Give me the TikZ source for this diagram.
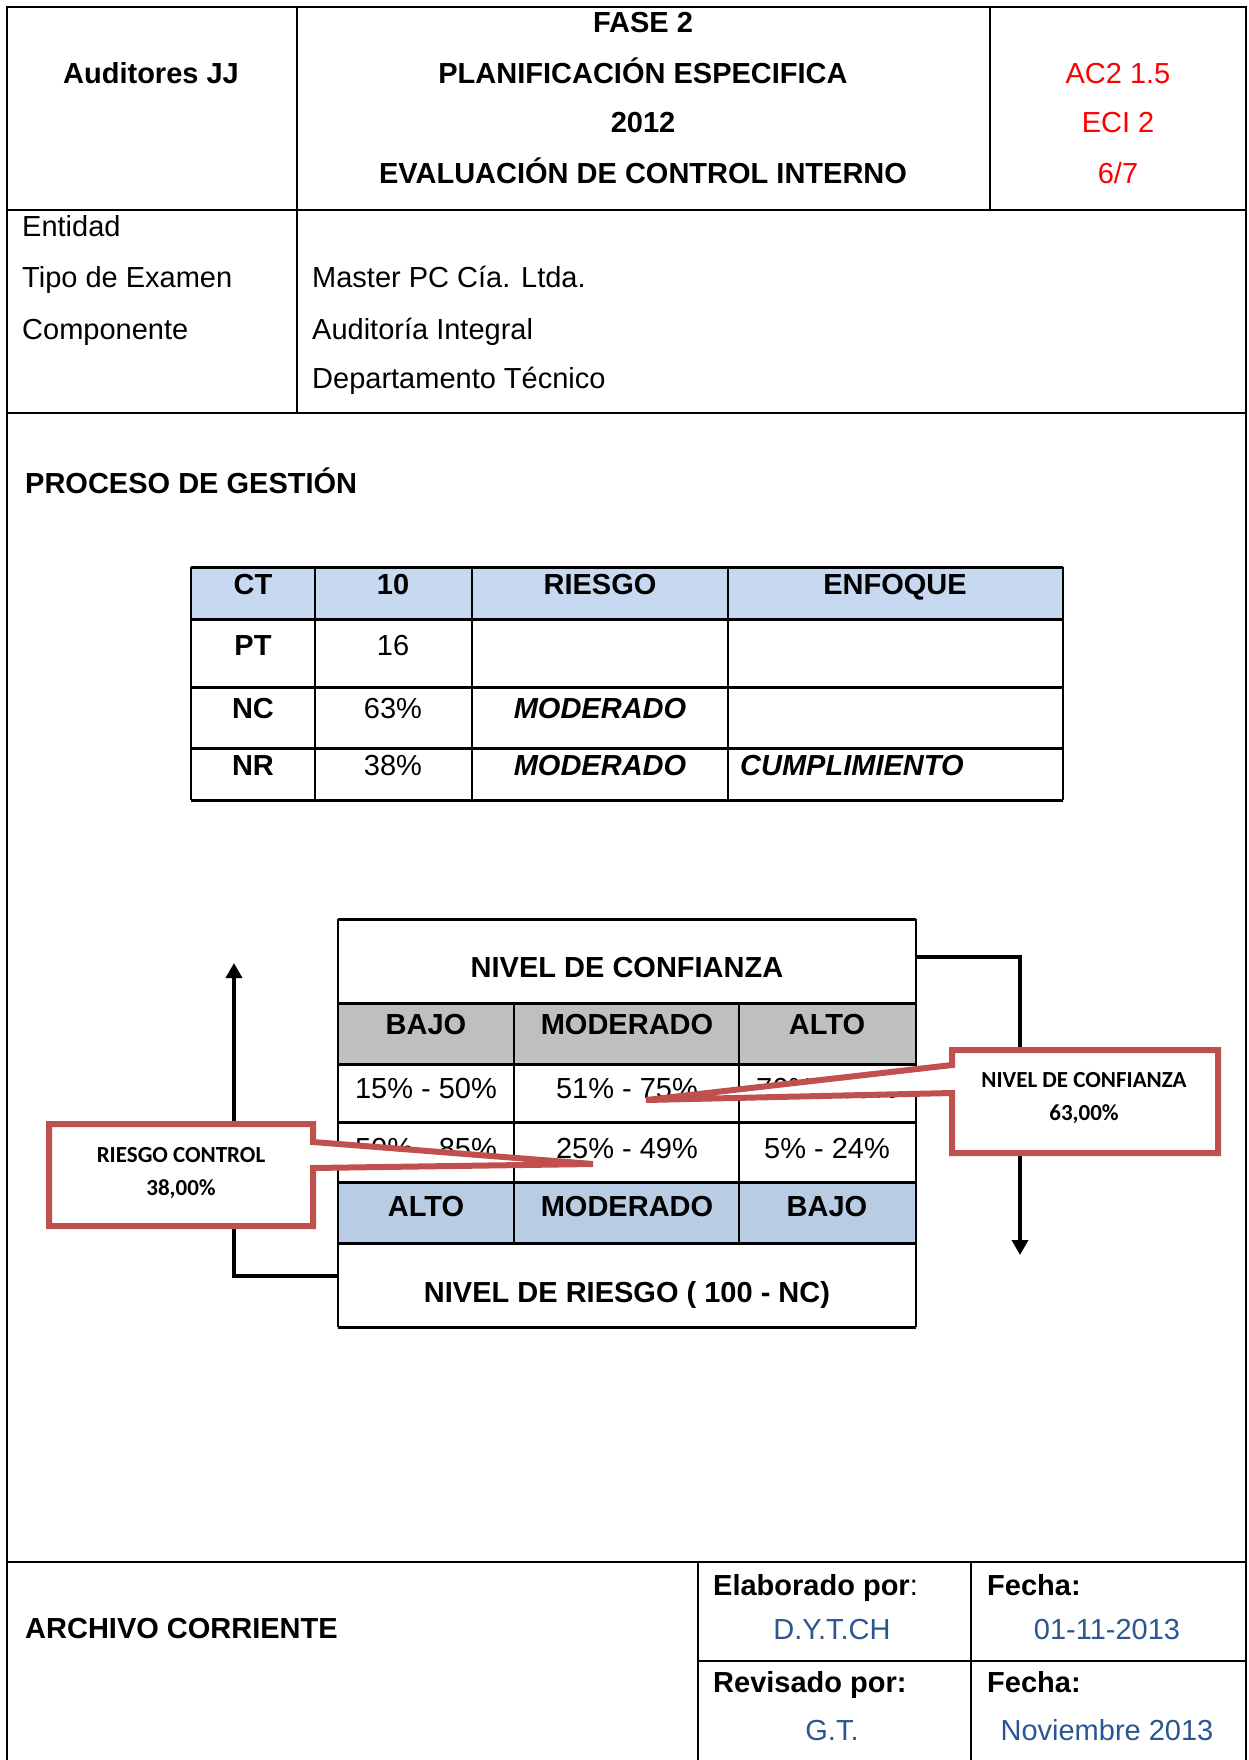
\documentclass[tikz,border=0pt]{standalone}
\usepackage{fontspec}
\setmainfont{Liberation Sans}
\newfontfamily\calloutfont{Carlito}
\usetikzlibrary{arrows.meta}
\definecolor{hdrblue}{HTML}{C6D9F1}
\definecolor{rowblue}{HTML}{B8CCE4}
\definecolor{rowgray}{HTML}{BFBFBF}
\definecolor{callred}{HTML}{C0504D}
\definecolor{inkblue}{HTML}{2B5691}
\definecolor{codered}{HTML}{FF0000}

\begin{document}
\begin{tikzpicture}[x=1pt,y=-1pt,
  txt/.style={inner sep=0pt, font=\fontsize{29}{34}\selectfont},
  ctr/.style={txt, anchor=base},
  lft/.style={txt, anchor=base west},
  ctrb/.style={ctr, font=\fontsize{29}{34}\selectfont\bfseries},
  lftb/.style={lft, font=\fontsize{29}{34}\selectfont\bfseries},
  ctrbi/.style={ctr, font=\fontsize{29}{34}\selectfont\bfseries\itshape},
  lftbi/.style={lft, font=\fontsize{29}{34}\selectfont\bfseries\itshape},
  calltxt/.style={inner sep=0pt, anchor=base, font=\fontsize{23}{27}\selectfont\calloutfont\bfseries},
  frame/.style={line width=2pt},
  gridh/.style={line width=3pt},
  gridv/.style={line width=1.8pt},
  flow/.style={line width=3.5pt, -{Triangle[length=15pt,width=16pt]}},
  callout/.style={draw=callred, fill=white, line width=6pt, line join=miter},
]
\useasboundingbox (0,0) rectangle (1248,1760);
\fill[white] (0,0) rectangle (1248,1760);

% ---------- page frame and section rules ----------
\draw[frame] (7,1760) -- (7,7) -- (1246,7) -- (1246,1760);
\draw[frame] (7,210) -- (1246,210);
\draw[frame] (7,413) -- (1246,413);
\draw[frame] (7,1562) -- (1246,1562);
\draw[frame] (297,7) -- (297,413);
\draw[frame] (990,7) -- (990,210);
\draw[frame] (698,1562) -- (698,1760);
\draw[frame] (971,1562) -- (971,1760);
\draw[frame] (698,1661) -- (1246,1661);

% ---------- heading ----------
\node[ctrb] (firm) at (151,84) {Auditores JJ};
\node[ctrb] (t1) at (643,33) {FASE 2};
\node[ctrb] (t2) at (643,84) {PLANIFICACIÓN ESPECIFICA};
\node[ctrb] (t3) at (643,133) {2012};
\node[ctrb] (t4) at (643,184) {EVALUACIÓN DE CONTROL INTERNO};
\node[ctr, text=codered] (r1) at (1118,84) {AC2 1.5};
\node[ctr, text=codered] (r2) at (1118,133) {ECI 2};
\node[ctr, text=codered] (r3) at (1118,184) {6/7};

\node[lft] (l1) at (22,237) {Entidad};
\node[lft] (l2) at (22,288) {Tipo de Examen};
\node[lft] (l3) at (22,339) {Componente};
\node[lft] (v1) at (312,288) {Master PC Cía. Ltda.};
\node[lft] (v2) at (312,339) {Auditoría Integral};
\node[lft] (v3) at (312,388) {Departamento Técnico};

\node[lftb] (proc) at (25,493) {PROCESO DE GESTIÓN};

% ---------- summary table ----------
\fill[hdrblue] (191,567) rectangle (1063,619);
\foreach \yy in {567,619,687,748,800} \draw[gridh] (191,\yy) -- (1063,\yy);
\foreach \xx in {191,315,472,728,1063} \draw[gridv] (\xx,567) -- (\xx,800);

\node[ctrb] (ct) at (253,594) {CT};
\node[ctrb] (ctv) at (393,594) {10};
\node[ctrb] (hr) at (600,594) {RIESGO};
\node[ctrb] (he) at (895,594) {ENFOQUE};
\node[ctrb] (pt) at (253,655) {PT};
\node[ctr] (ptv) at (393,655) {16};
\node[ctrb] (nc) at (253,718) {NC};
\node[ctr] (ncv) at (393,718) {63\%};
\node[ctrbi] (ncr) at (600,718) {MODERADO};
\node[ctrb] (nr) at (253,775) {NR};
\node[ctr] (nrv) at (393,775) {38\%};
\node[ctrbi] (nrr) at (600,775) {MODERADO};
\node[lftbi] (nre) at (740,775) {CUMPLIMIENTO};

% ---------- confidence / risk scale ----------
\fill[white] (338,919) rectangle (916,1327);
\fill[rowgray] (338,1003) rectangle (916,1064);
\fill[rowblue] (338,1182) rectangle (916,1243);
\foreach \yy in {919,1003,1064,1122,1182,1243,1327} \draw[gridh] (338,\yy) -- (916,\yy);
\draw[line width=2.5pt] (338,919) -- (338,1327);
\draw[line width=2.5pt] (916,919) -- (916,1327);
\foreach \xx in {514,739} \draw[gridv] (\xx,1003) -- (\xx,1243);

\node[ctrb] (nct) at (627,977) {NIVEL DE CONFIANZA};
\node[ctrb] (g1) at (426,1034) {BAJO};
\node[ctrb] (g2) at (627,1034) {MODERADO};
\node[ctrb] (g3) at (827,1034) {ALTO};
\node[ctr] (a1) at (426,1098) {15\% - 50\%};
\node[ctr] (a2) at (627,1098) {51\% - 75\%};
\node[ctr] (a3) at (827,1098) {76\% - 95\%};
\node[ctr] (b1) at (426,1158) {50\% - 85\%};
\node[ctr] (b2) at (627,1158) {25\% - 49\%};
\node[ctr] (b3) at (827,1158) {5\% - 24\%};
\node[ctrb] (k1) at (426,1216) {ALTO};
\node[ctrb] (k2) at (627,1216) {MODERADO};
\node[ctrb] (k3) at (827,1216) {BAJO};
\node[ctrb] (nrt) at (627,1302) {NIVEL DE RIESGO ( 100 - NC)};

% flow arrows around the scale
\coordinate (lstart) at (338,1276);
\coordinate (lbend) at (234,1276);
\coordinate (lend) at (234,963);
\coordinate (rstart) at (916,957);
\coordinate (rbend) at (1020,957);
\coordinate (rend) at (1020,1255);
\draw[flow] (lstart) -- (lbend) -- (lend);
\draw[flow] (rstart) -- (rbend) -- (rend);

% ---------- callouts ----------
\draw[callout] (49,1124) -- (313,1124) -- (313,1142) -- (593,1164)
  -- (313,1168) -- (313,1226) -- (49,1226) -- cycle;
\node[calltxt] (rc1) at (181,1162) {RIESGO CONTROL};
\node[calltxt] (rc2) at (181,1195) {38,00\%};

\draw[callout] (952,1050) -- (1218,1050) -- (1218,1153) -- (952,1153)
  -- (952,1093) -- (646,1100) -- (952,1065) -- cycle;
\node[calltxt] (cc1) at (1084,1087) {NIVEL DE CONFIANZA};
\node[calltxt] (cc2) at (1084,1120) {63,00\%};

% ---------- sign-off block ----------
\node[lftb] (arch) at (25,1638) {ARCHIVO CORRIENTE};
\node[lft] (elab) at (713,1595) {\textbf{Elaborado por}:};
\node[lftb] (f1) at (987,1595) {Fecha:};
\node[ctr, text=inkblue] (who1) at (832,1639) {D.Y.T.CH};
\node[ctr, text=inkblue] (d1) at (1107,1639) {01-11-2013};
\node[lftb] (rev) at (713,1692) {Revisado por:};
\node[lftb] (f2) at (987,1692) {Fecha:};
\node[ctr, text=inkblue] (who2) at (832,1740) {G.T.};
\node[ctr, text=inkblue] (d2) at (1107,1740) {Noviembre 2013};
\end{tikzpicture}
\end{document}
